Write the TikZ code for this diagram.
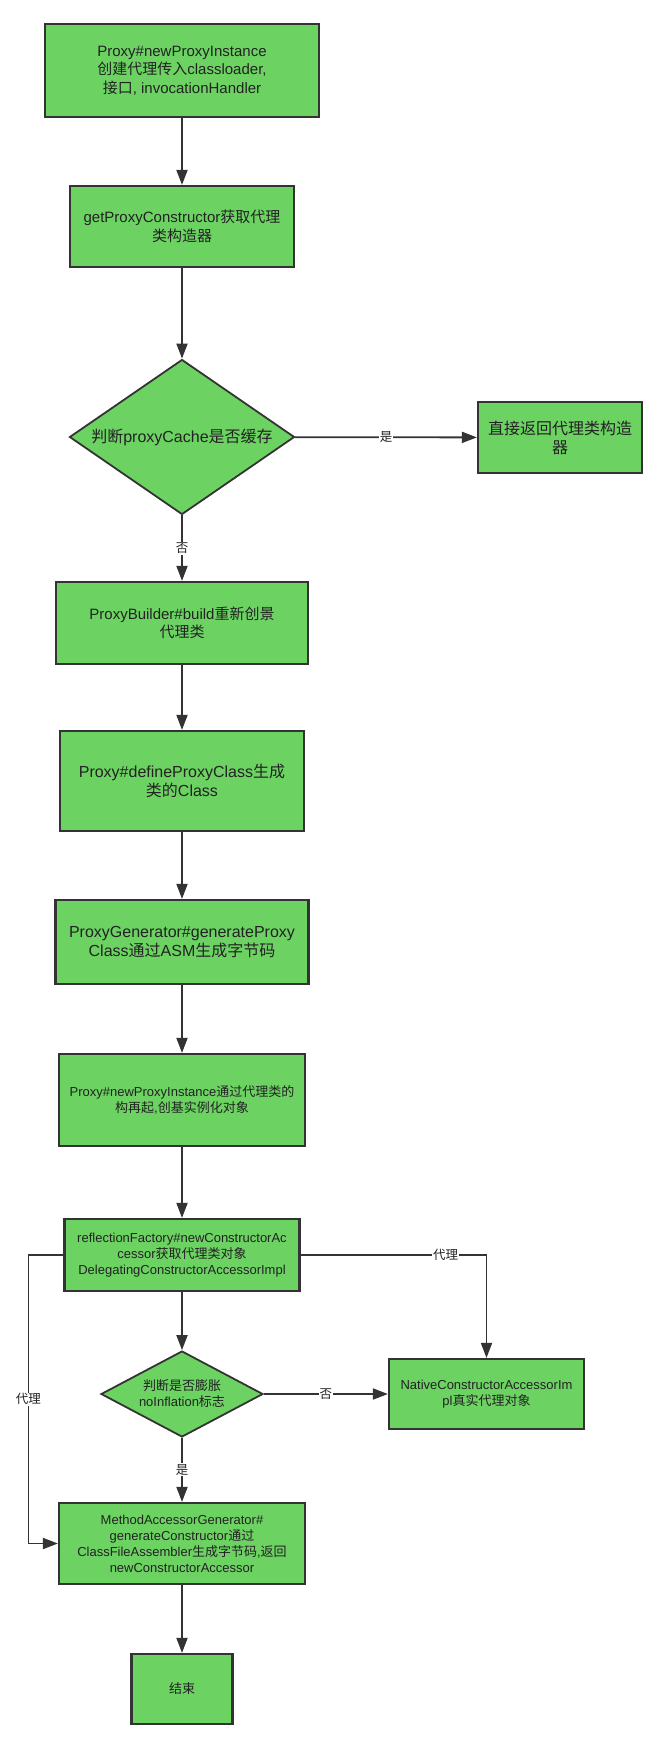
\documentclass[tikz,border=0pt]{standalone}
\usepackage{fontspec}
\setmainfont{Liberation Sans}
\newfontfamily\cjk{Noto Sans CJK SC}
\usetikzlibrary{arrows.meta, shapes.geometric}

\definecolor{boxgreen}{RGB}{108,211,99}
\definecolor{edgegray}{RGB}{51,51,51}
\definecolor{txtgray}{RGB}{34,34,34}

\begin{document}
\begin{tikzpicture}[>={Triangle[length=15pt, width=11pt]}, x=1pt, y=-1pt,
  box/.style={draw=edgegray, line width=2.2pt, fill=boxgreen, align=center,
              text=txtgray, inner sep=2pt},
  decision/.style={diamond, draw=edgegray, line width=1.8pt, fill=boxgreen,
                   align=center, text=txtgray, inner sep=0pt},
  big/.style={font=\fontsize{15}{18.5}\selectfont},
  bigger/.style={font=\fontsize{16}{19}\selectfont},
  small/.style={font=\fontsize{13}{16}\selectfont},
  link/.style={->, draw=edgegray, line width=1.8pt},
  tag/.style={fill=white, text=txtgray, inner sep=1pt,
              font=\fontsize{12.5}{14}\selectfont}]

\useasboundingbox (0,0) rectangle (666,1749);

% Nodes
\node[box, big, minimum width=274, minimum height=93] (start) at (182, 70.5)
  {Proxy\#newProxyInstance\\ {\cjk 创建代理传入}classloader,\\ {\cjk 接口}, invocationHandler};
\node[box, big, minimum width=224, minimum height=81] (ctor) at (182, 226.5)
  {getProxyConstructor{\cjk 获取代理}\\ {\cjk 类构造器}};
\node[decision, bigger, minimum width=225, minimum height=155, aspect=1.45] (cache) at (182, 437)
  {{\cjk 判断}proxyCache{\cjk 是否缓存}};
\node[box, bigger, minimum width=164, minimum height=71] (direct) at (560, 437.5)
  {{\cjk 直接返回代理类构造}\\ {\cjk 器}};
\node[box, big, minimum width=252, minimum height=82] (build) at (182, 623)
  {ProxyBuilder\#build{\cjk 重新创景}\\ {\cjk 代理类}};
\node[box, bigger, minimum width=244, minimum height=100] (define) at (182, 781)
  {Proxy\#defineProxyClass{\cjk 生成}\\ {\cjk 类的}Class};
\node[box, bigger, minimum width=253, minimum height=84] (gen) at (182, 942)
  {ProxyGenerator\#generateProxy\\ Class{\cjk 通过}ASM{\cjk 生成字节码}};
\node[box, small, minimum width=246, minimum height=92] (instance) at (182, 1100)
  {Proxy\#newProxyInstance{\cjk 通过代理类的}\\ {\cjk 构再起},{\cjk 创基实例化对象}};
\node[box, small, minimum width=235, minimum height=72] (reflect) at (182, 1255)
  {reflectionFactory\#newConstructorAc\\ cessor{\cjk 获取代理类对象}\\ DelegatingConstructorAccessorImpl};
\node[decision, small, minimum width=162, minimum height=86, aspect=1.88] (inflate) at (182, 1394)
  {{\cjk 判断是否膨胀}\\ noInflation{\cjk 标志}};
\node[box, small, minimum width=195, minimum height=70] (native) at (486.5, 1394)
  {NativeConstructorAccessorIm\\ pl{\cjk 真实代理对象}};
\node[box, small, minimum width=246, minimum height=81] (method) at (182, 1543.5)
  {MethodAccessorGenerator\#\\ generateConstructor{\cjk 通过}\\ ClassFileAssembler{\cjk 生成字节码},{\cjk 返回}\\ newConstructorAccessor};
\node[box, small, minimum width=101, minimum height=70] (end) at (182, 1689)
  {{\cjk 结束}};

% Arrows - main column
\draw[link] (start) -- (ctor);
\draw[link] (ctor) -- (cache);
\draw[link] (cache) -- (build) node[midway, tag] {\cjk 否};
\draw[link] (build) -- (define);
\draw[link] (define) -- (gen);
\draw[link] (gen) -- (instance);
\draw[link] (instance) -- (reflect);
\draw[link] (reflect) -- (inflate);
\draw[link] (inflate) -- (method) node[midway, tag] {\cjk 是};
\draw[link] (method) -- (end);

% Arrows - branches
\draw[link] (cache) -- (direct) node[midway, tag] {\cjk 是};
\draw[link] (inflate) -- (native) node[midway, tag] {\cjk 否};
\draw[link] (reflect.east) -| node[pos=0.39, tag] {\cjk 代理} (native.north);
\draw[link] (reflect.west) -- ++(-35,0) |- node[pos=0.25, tag] {\cjk 代理} (method.west);

\end{tikzpicture}
\end{document}
